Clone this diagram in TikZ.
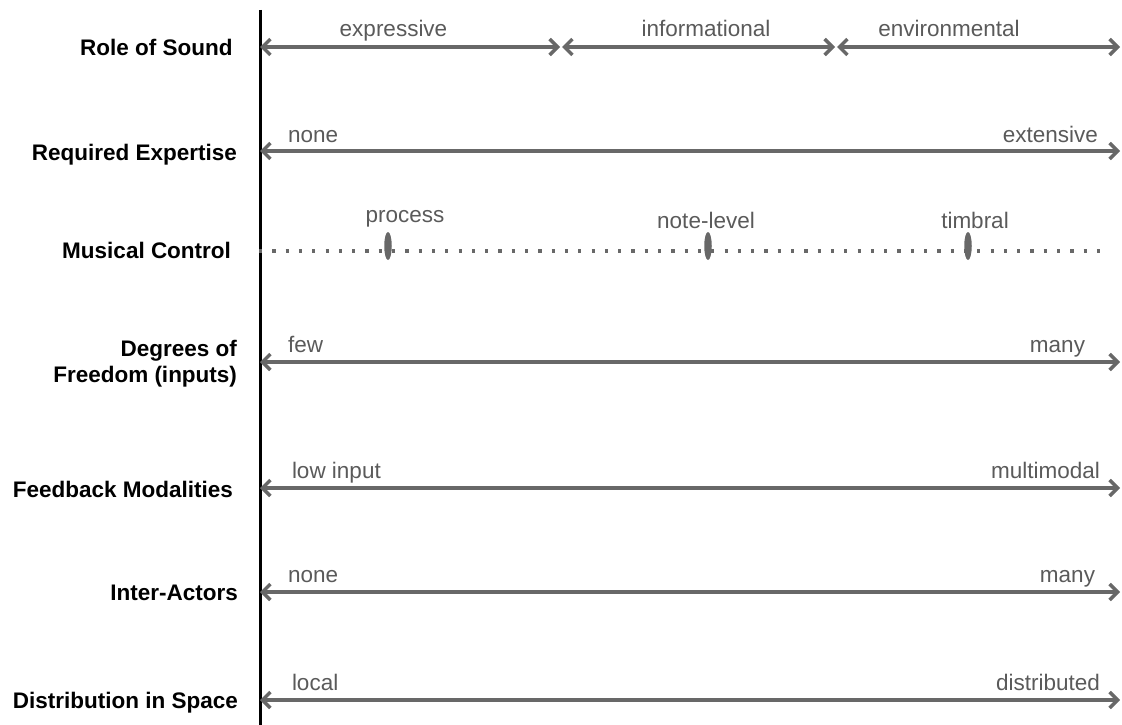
\documentclass[tikz,border=0pt]{standalone}
\usepackage{fontspec}
\setmainfont{Liberation Sans}
\usetikzlibrary{arrows.meta,shapes.geometric}
\definecolor{axgray}{RGB}{104,104,104}
\definecolor{txgray}{RGB}{90,90,90}
\begin{document}
\begin{tikzpicture}[x=1pt,y=-1pt,
  every node/.style={inner sep=0pt, outer sep=0pt},
  rowlab/.style={font=\fontsize{22.5}{26}\selectfont\bfseries, text=black, anchor=base east, align=right},
  vallab/.style={font=\fontsize{22.5}{26}\selectfont, text=txgray},
  dimline/.style={draw=axgray, line width=3.4pt, {Straight Barb[length=8pt,width=16pt]}-{Straight Barb[length=8pt,width=16pt]}},
  dotline/.style={draw=axgray, line width=3.2pt, dash pattern=on 3.2pt off 10.1pt},
  tickmark/.style={fill=axgray, draw=none, ellipse, minimum width=7.5pt, minimum height=28pt}
]
\useasboundingbox (0,0) rectangle (1122,725);

% vertical axis
\coordinate (vtop) at (260,10);
\coordinate (vbot) at (260,725);
\draw[line width=3pt, black] (vtop) -- (vbot);

% Row 1: Role of Sound
\node[rowlab] (l1) at (232.5,56) {Role of Sound};
\coordinate (r1a) at (260,47);
\coordinate (r1b) at (560,47);
\coordinate (r1c) at (562,47);
\coordinate (r1d) at (835,47);
\coordinate (r1e) at (837,47);
\coordinate (r1f) at (1120,47);
\draw[dimline] (r1a) -- (r1b);
\draw[dimline] (r1c) -- (r1d);
\draw[dimline] (r1e) -- (r1f);
\node[vallab, anchor=base] (v1a) at (393.5,37) {expressive};
\node[vallab, anchor=base] (v1b) at (706,37) {informational};
\node[vallab, anchor=base] (v1c) at (949,37) {environmental};

% Row 2: Required Expertise
\node[rowlab] (l2) at (237,160) {Required Expertise};
\coordinate (r2a) at (260,151);
\coordinate (r2b) at (1120,151);
\draw[dimline] (r2a) -- (r2b);
\node[vallab, anchor=base west] (v2a) at (288,142) {none};
\node[vallab, anchor=base east] (v2b) at (1098,142) {extensive};

% Row 3: Musical Control
\node[rowlab] (l3) at (231,258) {Musical Control};
\coordinate (r3a) at (259,251);
\coordinate (r3b) at (1110,251);
\draw[dotline] (r3a) -- (r3b);
\node[tickmark] (t1) at (388,246) {};
\node[tickmark] (t2) at (708,246) {};
\node[tickmark] (t3) at (968,246) {};
\node[vallab, anchor=base] (v3a) at (405,222) {process};
\node[vallab, anchor=base] (v3b) at (706,228) {note-level};
\node[vallab, anchor=base] (v3c) at (975,228) {timbral};

% Row 4: Degrees of Freedom
\node[rowlab] (l4) at (237,382) {Degrees of\\Freedom (inputs)};
\coordinate (r4a) at (260,362);
\coordinate (r4b) at (1120,362);
\draw[dimline] (r4a) -- (r4b);
\node[vallab, anchor=base west] (v4a) at (288,352) {few};
\node[vallab, anchor=base east] (v4b) at (1085,352) {many};

% Row 5: Feedback Modalities
\node[rowlab] (l5) at (233,497) {Feedback Modalities};
\coordinate (r5a) at (260,488);
\coordinate (r5b) at (1120,488);
\draw[dimline] (r5a) -- (r5b);
\node[vallab, anchor=base west] (v5a) at (292,478) {low input};
\node[vallab, anchor=base east] (v5b) at (1100,478) {multimodal};

% Row 6: Inter-Actors
\node[rowlab] (l6) at (238,600) {Inter-Actors};
\coordinate (r6a) at (260,592);
\coordinate (r6b) at (1120,592);
\draw[dimline] (r6a) -- (r6b);
\node[vallab, anchor=base west] (v6a) at (288,582) {none};
\node[vallab, anchor=base east] (v6b) at (1095,582) {many};

% Row 7: Distribution in Space
\node[rowlab] (l7) at (238,708) {Distribution in Space};
\coordinate (r7a) at (260,700);
\coordinate (r7b) at (1120,700);
\draw[dimline] (r7a) -- (r7b);
\node[vallab, anchor=base west] (v7a) at (292,690) {local};
\node[vallab, anchor=base east] (v7b) at (1100,690) {distributed};
\end{tikzpicture}
\end{document}
